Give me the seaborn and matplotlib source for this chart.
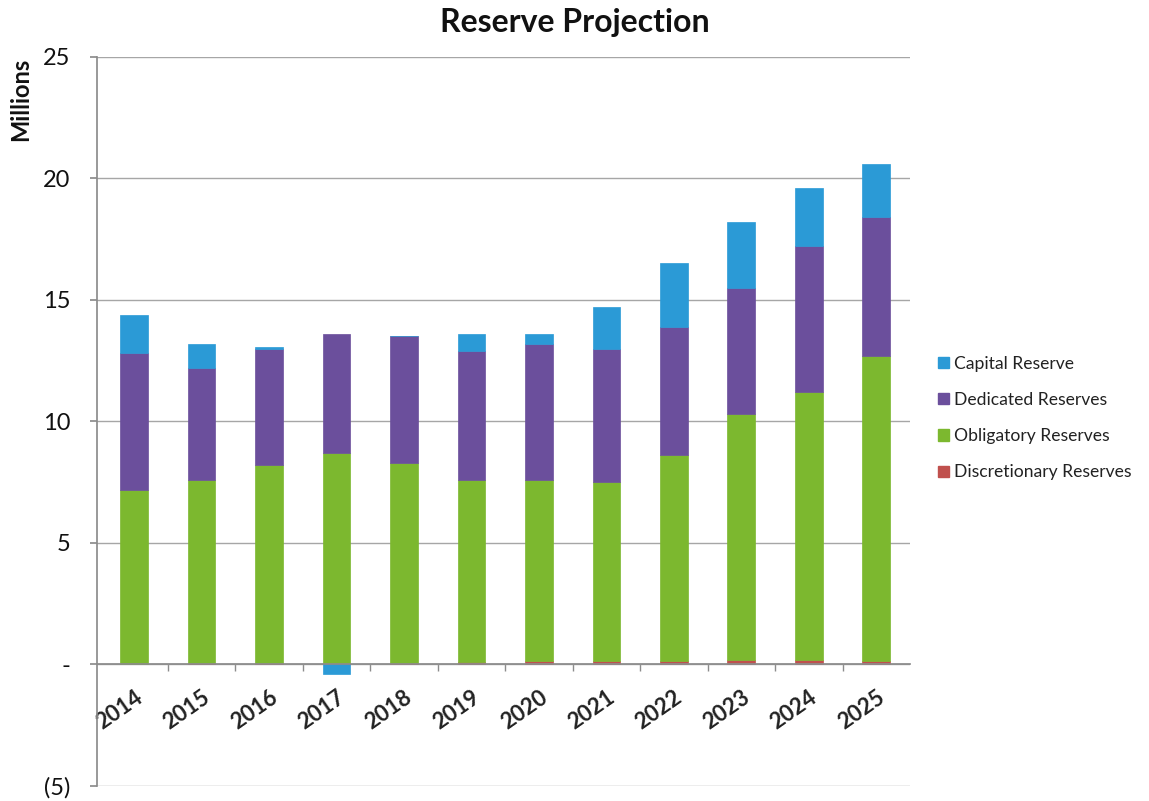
import numpy as np
import pandas as pd
import matplotlib
matplotlib.use("Agg")
import matplotlib.pyplot as plt
from matplotlib.patches import Patch
import seaborn as sns

years = ["2014", "2015", "2016", "2017", "2018", "2019", "2020", "2021", "2022", "2023", "2024", "2025"]
discretionary = [0.03, 0.05, 0.05, 0.05, 0.08, 0.12, 0.15, 0.15, 0.15, 0.20, 0.20, 0.15]
obligatory = [7.17, 7.55, 8.15, 8.65, 8.22, 7.48, 7.45, 7.35, 8.45, 10.10, 11.00, 12.55]
dedicated = [5.6, 4.6, 4.8, 4.9, 5.2, 5.3, 5.6, 5.5, 5.3, 5.2, 6.0, 5.7]
capital = [1.6, 1.0, 0.05, -0.4, 0.0, 0.7, 0.4, 1.7, 2.6, 2.7, 2.4, 2.2]

series_names = ["Discretionary Reserves", "Obligatory Reserves", "Dedicated Reserves", "Capital Reserve"]
colors = {"Discretionary Reserves": "#c0504d",
          "Obligatory Reserves": "#7cb82f",
          "Dedicated Reserves": "#6b4f9c",
          "Capital Reserve": "#2b9ad6"}

df = pd.DataFrame({"Year": years,
                   "Discretionary Reserves": discretionary,
                   "Obligatory Reserves": obligatory,
                   "Dedicated Reserves": dedicated,
                   "Capital Reserve": capital})

sns.set_theme(style="white")
plt.rcParams["font.family"] = ["Lato", "DejaVu Sans"]

fig = plt.figure(figsize=(11.49, 8.01), dpi=100)
ax = fig.add_axes([0.0844, 0.0187, 0.7076, 0.9103])

pos_base = np.zeros(len(years))
neg_base = np.zeros(len(years))
for name in series_names:
    vals = np.array(df[name], dtype=float)
    bottoms = np.where(vals >= 0, pos_base, neg_base)
    sns.barplot(data=df, x="Year", y=name, order=years, color=colors[name],
                bottom=bottoms, width=0.41, saturation=1, ax=ax,
                edgecolor=colors[name], linewidth=0.5, errorbar=None)
    pos_base = pos_base + np.where(vals >= 0, vals, 0)
    neg_base = neg_base + np.where(vals < 0, vals, 0)

ax.set_ylim(-5, 25)
ax.set_xlim(-0.55, 11.5)
ax.set_yticks([-5, 0, 5, 10, 15, 20, 25])
ax.set_yticklabels(["(5)", "-", "5", "10", "15", "20", "25"], fontsize=17, color="#111111")
ax.yaxis.grid(True, color="#a6a6a6", linewidth=1.0)
ax.set_axisbelow(True)

for s in ["top", "right"]:
    ax.spines[s].set_visible(False)
ax.spines["left"].set_color("#8c8c8c")
ax.spines["bottom"].set_position(("data", 0))
ax.spines["bottom"].set_color("#8c8c8c")
ax.tick_params(axis="y", left=True, length=5, color="#8c8c8c", pad=14)

ax.set_xticks(range(len(years)))
ax.set_xticklabels(years, rotation=35, ha="right", rotation_mode="anchor",
                   fontsize=16, fontweight="bold", color="#222222")
ax.tick_params(axis="x", which="major", length=0, pad=16)
ax.set_xticks(np.arange(0.5, len(years) - 1, 1.0), minor=True)
ax.tick_params(axis="x", which="minor", bottom=True, length=5, color="#8c8c8c")

ax.set_xlabel("")
ax.set_ylabel("")
fig.text(0.018, 0.876, "Millions", rotation=90, fontsize=17, fontweight="bold",
         ha="center", va="center", color="#111111")
fig.text(0.5, 0.972, "Reserve Projection", fontsize=23, fontweight="bold",
         ha="center", va="center", color="#111111")

handles = [Patch(facecolor=colors[n], edgecolor=colors[n]) for n in reversed(series_names)]
fig.legend(handles, list(reversed(series_names)), loc="center left",
           bbox_to_anchor=(0.803, 0.478), frameon=False, fontsize=12.6,
           handlelength=0.6, handleheight=0.6, handletextpad=0.3, labelspacing=1.15,
           labelcolor="#222222")

fig.savefig("out.png", dpi=100)
